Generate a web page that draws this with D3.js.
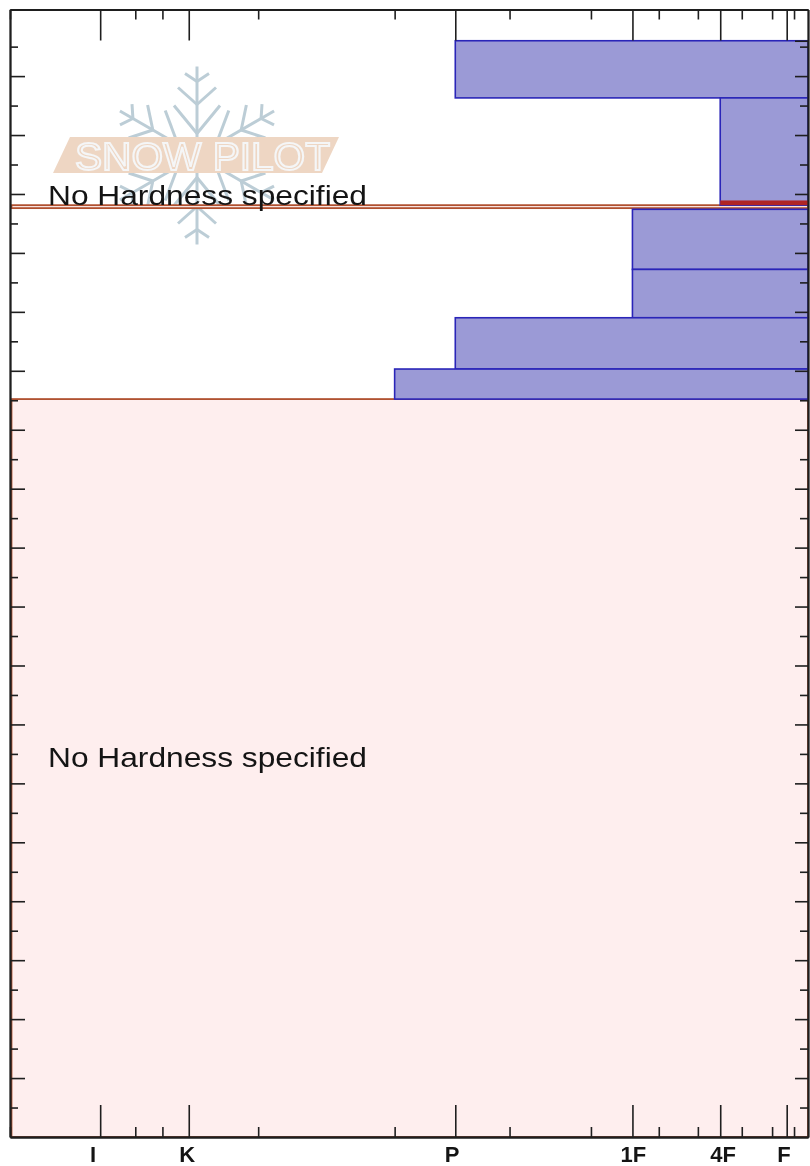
<!DOCTYPE html>
<html>
<head>
<meta charset="utf-8">
<style>
  html, body { margin: 0; padding: 0; background: #fff; }
  svg { display: block; filter: blur(0.45px); }
</style>
<script src="https://cdnjs.cloudflare.com/ajax/libs/d3/7.8.5/d3.min.js"></script>
</head>
<body>
<div id="chart"></div>
<script>
// Layer heights in cm above the ground, hardness in axis units (0 = right edge)
const layerTops     = [186, 176.3, 157.4, 147.2, 139, 130.3]
const layerBottoms  = [176.3, 158.1, 147.2, 139, 130.3, 125.2]
const layerHardness = [44.2, 11, 22, 22, 44.2, 51.8]

const emptyTops     = [158.1, 125.2]
const emptyBottoms  = [157.6, 0]
const emptyLabel    = 'No Hardness specified'

const weakTop = 158.9, weakBottom = 158.1, weakHardness = 11

const hardnessLabels = ['I', 'K', 'P', '1F', '4F', 'F']
const hardnessMajor  = [88.7, 77.6, 44.2, 22, 11, 2.67]
const hardnessMinor  = [100, 84.3, 80.9, 68.9, 51.8, 37.4, 27.2, 18.7, 13.8, 8.3, 4.5, 1.75]
const labelAnchors   = [89.6, 77.8, 44.6, 21.9, 10.65, 3]

const heightMajor = [10, 20, 30, 40, 50, 60, 70, 80, 90, 100, 110, 120, 130, 140, 150, 160, 170, 180]
const heightMinor = [5, 15, 25, 35, 45, 55, 65, 75, 85, 95, 105, 115, 125, 135, 145, 155, 165, 175, 185]

const COLORS = {
  axis: '#1e1e1e',
  text: '#141414',
  layerFill: '#9b9ad6',
  layerStroke: '#2a25b8',
  emptyFill: '#feeeee',
  emptyStroke: '#b0502f',
  weak: '#b02424',
  flake: '#bccdd6',
  banner: '#eed6c3',
  bannerText: '#f5f6f7',
}

const width = 810, height = 1166
const m = { left: 10, right: 2, top: 9.5, bottom: 29 }

const svg = d3.select('#chart').append('svg')
  .attr('width', width)
  .attr('height', height)
  .attr('role', 'img')
  .attr('aria-label', 'Snow profile hardness by layer')

const x = d3.scaleLinear().domain([100, 0]).range([m.left, width - m.right])
const y = d3.scaleLinear().domain([0, 191.3]).range([height - m.bottom, m.top])

// Watermark, behind everything
const logo = svg.append('g').attr('transform', 'translate(197,155.5)')
const branches = [[22, 50, 23], [51, 68, 19], [74, 82, 12]]
d3.range(6).forEach(i => {
  const arm = logo.append('g')
    .attr('transform', `rotate(${i * 60})`)
    .attr('stroke', COLORS.flake)
    .attr('stroke-width', 3)
    .attr('fill', 'none')
  arm.append('line').attr('x1', 0).attr('y1', -8).attr('x2', 0).attr('y2', -89)
  for (const [base, along, lat] of branches) {
    for (const side of [-1, 1]) {
      arm.append('line')
        .attr('x1', 0).attr('y1', -base)
        .attr('x2', side * lat).attr('y2', -along)
    }
  }
})
svg.append('path')
  .attr('d', d3.line()([[70, 137], [339, 137], [322, 173], [53, 173]]) + 'Z')
  .attr('fill', COLORS.banner)
svg.append('text')
  .attr('x', 75).attr('y', 170)
  .attr('textLength', 255)
  .attr('lengthAdjust', 'spacingAndGlyphs')
  .attr('font-family', "'Liberation Sans', Arial, sans-serif")
  .attr('font-size', 39)
  .attr('fill', 'none')
  .attr('stroke', COLORS.bannerText)
  .attr('stroke-width', 2)
  .text('SNOW PILOT')

// Layers without hardness
svg.selectAll('rect.empty')
  .data(emptyTops)
  .join('rect')
  .attr('class', 'empty')
  .attr('x', x(100) + 1.5)
  .attr('y', d => y(d))
  .attr('width', x(0) - x(100) - 1.5)
  .attr('height', (d, i) => y(emptyBottoms[i]) - y(d))
  .attr('fill', COLORS.emptyFill)
  .attr('stroke', COLORS.emptyStroke)
  .attr('stroke-width', 1.8)

// Layers with hardness
svg.selectAll('rect.layer')
  .data(layerTops)
  .join('rect')
  .attr('class', 'layer')
  .attr('x', (d, i) => x(layerHardness[i]))
  .attr('y', d => y(d))
  .attr('width', (d, i) => x(0) - x(layerHardness[i]))
  .attr('height', (d, i) => y(layerBottoms[i]) - y(d))
  .attr('fill', COLORS.layerFill)
  .attr('stroke', COLORS.layerStroke)
  .attr('stroke-width', 1.6)

// Weak interface
svg.append('rect')
  .attr('x', x(weakHardness))
  .attr('y', y(weakTop))
  .attr('width', x(0) - x(weakHardness))
  .attr('height', y(weakBottom) - y(weakTop))
  .attr('fill', COLORS.weak)

// Text of the empty layers, baseline near the layer middle
svg.selectAll('text.empty')
  .data(emptyTops)
  .join('text')
  .attr('class', 'empty')
  .attr('x', 48)
  .attr('y', (d, i) => (y(d) + y(emptyBottoms[i])) / 2 - 1.5)
  .attr('textLength', 319)
  .attr('lengthAdjust', 'spacingAndGlyphs')
  .attr('font-family', "'Liberation Sans', Arial, sans-serif")
  .attr('font-size', 28)
  .attr('fill', COLORS.text)
  .text(emptyLabel)

// Axes : ticks go inward on all four sides
function styleAxis(sel) {
  sel.selectAll('.tick text').remove()
  sel.selectAll('.tick line').attr('stroke', COLORS.axis).attr('stroke-width', 1.6)
  sel.select('.domain').attr('stroke', COLORS.axis).attr('stroke-width', 1.8)
}

const axisBottom = height - m.bottom
const xAxes = [
  [d3.axisBottom(x).tickValues(hardnessMajor).tickSizeInner(-32), axisBottom],
  [d3.axisBottom(x).tickValues(hardnessMinor).tickSizeInner(-10), axisBottom],
  [d3.axisTop(x).tickValues(hardnessMajor).tickSizeInner(-31), m.top],
  [d3.axisTop(x).tickValues(hardnessMinor).tickSizeInner(-10), m.top],
]
for (const [axis, pos] of xAxes) {
  svg.append('g')
    .attr('transform', `translate(0,${pos})`)
    .call(axis.tickSizeOuter(0))
    .call(styleAxis)
}

const yAxes = [
  [d3.axisLeft(y).tickValues(heightMajor).tickSizeInner(-15), m.left],
  [d3.axisLeft(y).tickValues(heightMinor).tickSizeInner(-8), m.left],
  [d3.axisRight(y).tickValues(heightMajor.concat([186])).tickSizeInner(-13), width - m.right],
  [d3.axisRight(y).tickValues(heightMinor).tickSizeInner(-8), width - m.right],
]
for (const [axis, pos] of yAxes) {
  svg.append('g')
    .attr('transform', `translate(${pos},0)`)
    .call(axis.tickSizeOuter(0))
    .call(styleAxis)
}

// Hardness labels
svg.selectAll('text.hardness')
  .data(hardnessLabels)
  .join('text')
  .attr('class', 'hardness')
  .attr('x', (d, i) => x(labelAnchors[i]))
  .attr('y', height - 4)
  .attr('text-anchor', 'middle')
  .attr('font-family', "'Liberation Sans', Arial, sans-serif")
  .attr('font-weight', 'bold')
  .attr('font-size', 22)
  .attr('fill', COLORS.text)
  .text(d => d)
</script>
</body>
</html>
